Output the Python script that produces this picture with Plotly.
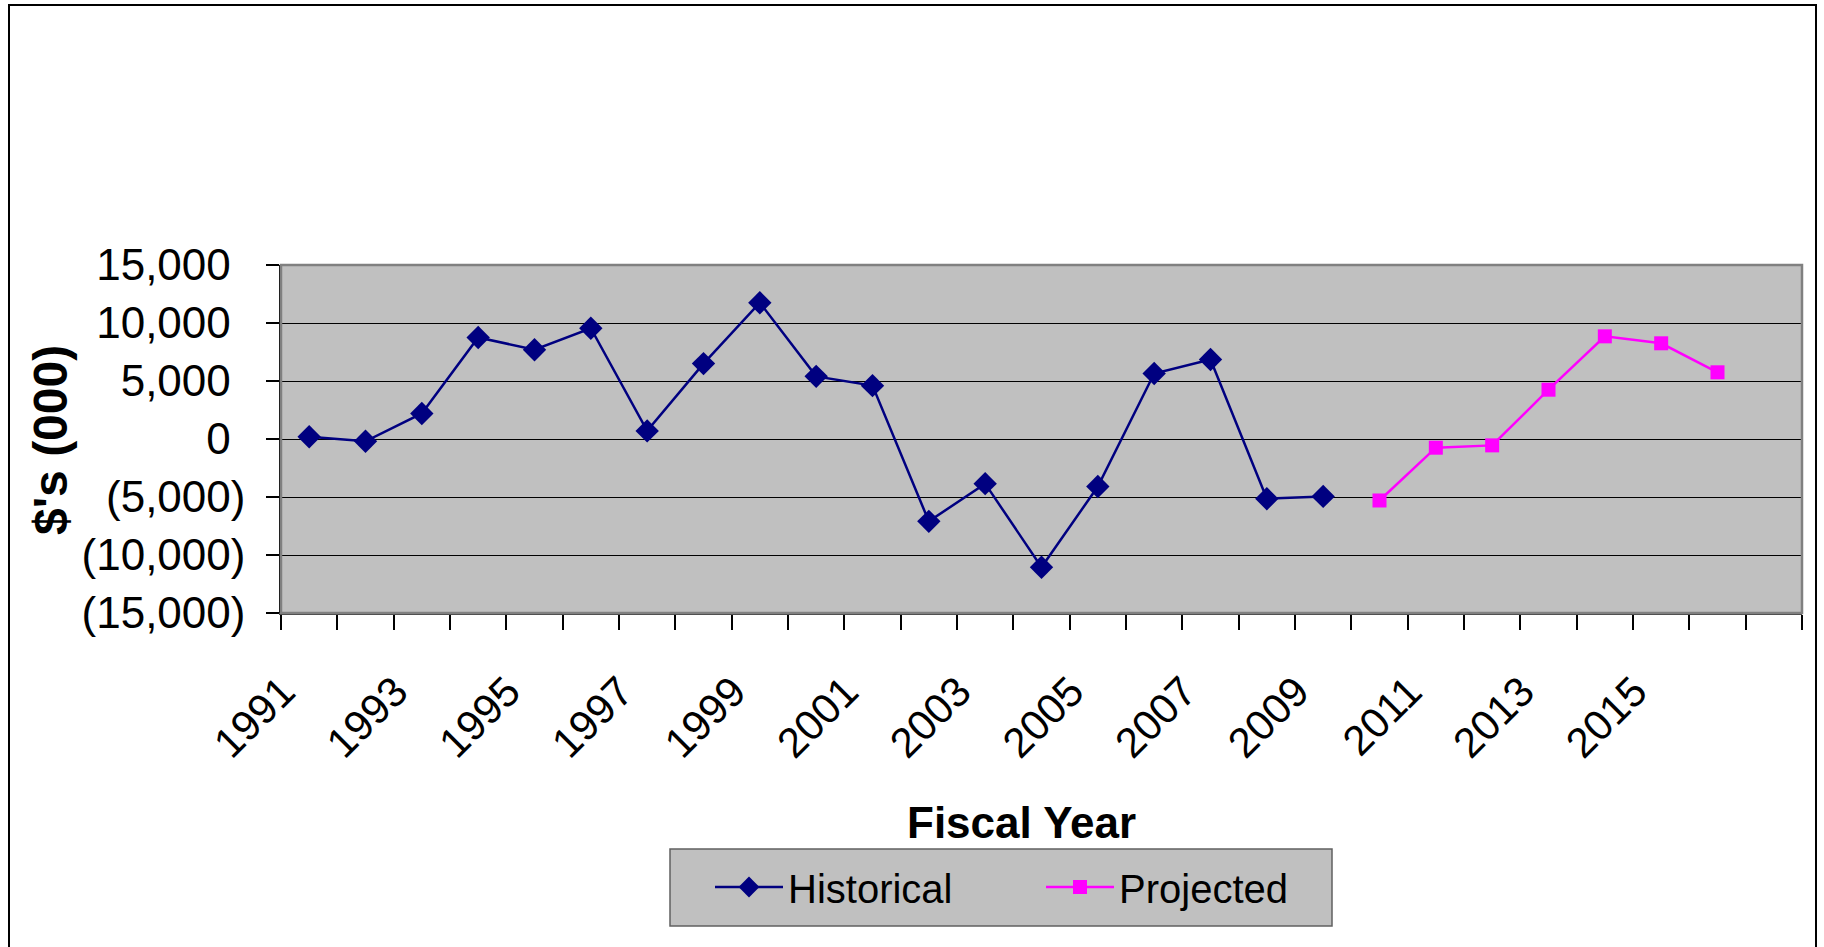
import plotly.graph_objects as go

# ---- data ----
categories = [1991, 1992, 1993, 1994, 1995, 1996, 1997, 1998, 1999, 2000,
              2001, 2002, 2003, 2004, 2005, 2006, 2007, 2008, 2009, 2010,
              2011, 2012, 2013, 2014, 2015, 2016, 2017]
hist_years = [1991, 1992, 1993, 1994, 1995, 1996, 1997, 1998, 1999, 2000,
              2001, 2002, 2003, 2004, 2005, 2006, 2007, 2008, 2009]
hist_values = [200, -200, 2200, 8750, 7700, 9550, 700, 6500, 11750, 5400,
               4600, -7100, -3850, -11050, -4100, 5650, 6850, -5150, -4950]
proj_years = [2010, 2011, 2012, 2013, 2014, 2015, 2016]
proj_values = [-5300, -750, -550, 4250, 8850, 8250, 5750]
x_tick_years = [1991, 1993, 1995, 1997, 1999, 2001, 2003, 2005, 2007, 2009,
                2011, 2013, 2015]
x_tick_labels = ["1991", "1993", "1995", "1997", "1999", "2001", "2003",
                 "2005", "2007", "2009", "2011", "2013", "2015"]
y_tick_values = [-15000, -10000, -5000, 0, 5000, 10000, 15000]
y_tick_labels = ["(15,000)", "(10,000)", "(5,000)", "0", "5,000", "10,000", "15,000"]

# ---- layout geometry (pixels) ----
W, H = 1824, 947
L, R, T, B = 281, 1802, 265, 613
FONT = "Liberation Sans, Arial, sans-serif"
LABEL_SHIFT = 0.47  # rotated labels sit slightly left of the category centre


def px_x(p):
    return (p - L) / (R - L)


def px_y(p):
    return (B - p) / (B - T)


pad = '<span style="color:rgba(0,0,0,0)">)</span>'
y_text = [t if t.startswith("(") else t + pad for t in y_tick_labels]
boundaries = [c - 0.5 for c in categories] + [categories[-1] + 0.5]
x_label_pos = [c - LABEL_SHIFT for c in x_tick_years]

fig = go.Figure()
fig.add_trace(go.Scatter(
    x=hist_years, y=hist_values, name="Historical", mode="lines+markers",
    line=dict(color="#000080", width=2.5),
    marker=dict(symbol="diamond", size=18, color="#000080"),
))
fig.add_trace(go.Scatter(
    x=proj_years, y=proj_values, name="Projected", mode="lines+markers",
    line=dict(color="#ff00ff", width=2.5),
    marker=dict(symbol="square", size=14, color="#ff00ff"),
))

fig.update_layout(
    width=W, height=H,
    margin=dict(l=L, r=W - R, t=T, b=H - B, autoexpand=False),
    paper_bgcolor="white", plot_bgcolor="#c0c0c0",
    font=dict(family=FONT, color="black"),
    showlegend=True,
    legend=dict(
        orientation="h", xref="container", yref="container",
        x=710 / W, y=1 - 887 / H, xanchor="left", yanchor="middle",
        bgcolor="rgba(0,0,0,0)", borderwidth=0,
        font=dict(size=40, family=FONT), itemwidth=68,
        entrywidth=248, entrywidthmode="pixels",
    ),
    xaxis=dict(
        range=[boundaries[0], boundaries[-1]],
        tickmode="array", tickvals=x_label_pos, ticktext=x_tick_labels,
        tickangle=-45, tickfont=dict(size=42, family=FONT),
        ticks="", showgrid=False, zeroline=False,
        showline=True, linecolor="#404040", linewidth=2,
        ticklabelstandoff=35,
        minor=dict(tickmode="array", tickvals=boundaries, ticks="outside",
                   ticklen=15, tickwidth=1.5, tickcolor="black", showgrid=False),
    ),
    yaxis=dict(
        range=[-15000, 15000], tickmode="array", tickvals=y_tick_values,
        ticktext=y_text, tickfont=dict(size=44, family=FONT),
        ticks="outside", ticklen=13, tickwidth=1.5, tickcolor="black",
        showgrid=True, gridcolor="black", gridwidth=1, zeroline=False,
        showline=True, linecolor="black", linewidth=1.5,
        ticklabelstandoff=12,
    ),
    annotations=[
        dict(text="<b>$'s (000)</b>", xref="paper", yref="paper",
             x=px_x(50), y=px_y(440), textangle=-90, showarrow=False,
             xanchor="center", yanchor="middle",
             font=dict(size=48, family=FONT, color="black")),
        dict(text="<b>Fiscal Year</b>", xref="paper", yref="paper",
             x=px_x(1021), y=px_y(822), showarrow=False,
             xanchor="center", yanchor="middle",
             font=dict(size=44, family=FONT, color="black")),
    ],
    shapes=[
        # plot area border
        dict(type="rect", xref="paper", yref="paper", x0=0, x1=1, y0=0, y1=1,
             line=dict(color="#808080", width=2.5), layer="above"),
        # legend box
        dict(type="rect", xref="paper", yref="paper",
             x0=px_x(670), x1=px_x(1332), y0=px_y(926), y1=px_y(849),
             line=dict(color="#606060", width=1.5), fillcolor="#c0c0c0",
             layer="below"),
        # chart frame
        dict(type="rect", xref="paper", yref="paper",
             x0=px_x(9), x1=px_x(1816), y0=px_y(1000), y1=px_y(5),
             line=dict(color="black", width=2), layer="below"),
    ],
)

fig.write_html("out.html", config={"displayModeBar": False},
               post_script="document.body.style.margin='0';document.body.style.overflow='hidden';")
